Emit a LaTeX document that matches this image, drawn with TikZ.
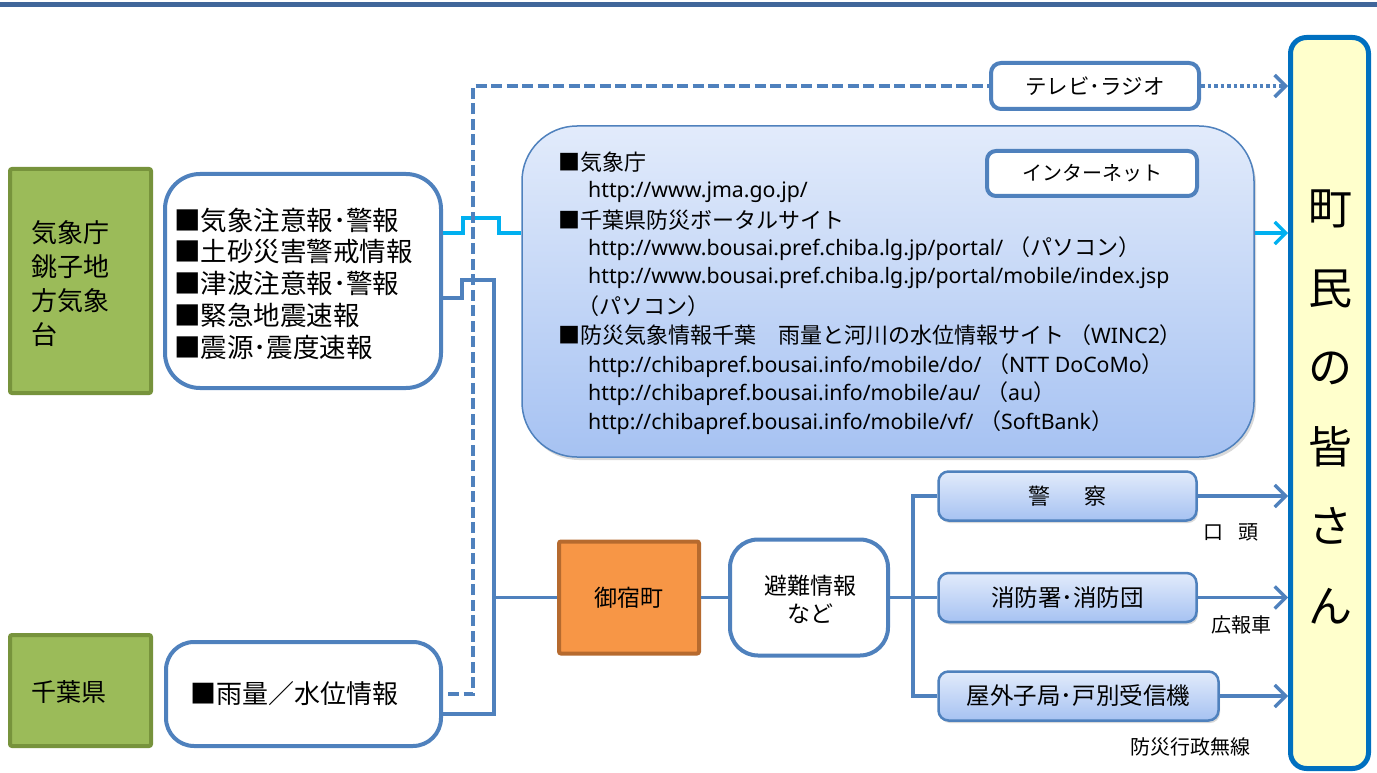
\documentclass[tikz,border=0pt]{standalone}
\usepackage{fontspec}
\setmainfont{Noto Sans CJK JP}
\newfontfamily\lat{Noto Sans}
\usetikzlibrary{arrows.meta,shadows}
\definecolor{lineblue}{HTML}{4F81BD}
\definecolor{cyanc}{HTML}{00B0F0}
\definecolor{greenf}{HTML}{9BBB59}
\definecolor{greenb}{HTML}{77933C}
\definecolor{orangef}{HTML}{F79646}
\definecolor{orangeb}{HTML}{B66A2E}
\definecolor{yellowf}{HTML}{FFFFCC}
\definecolor{townb}{HTML}{0070C0}
\definecolor{topbar}{HTML}{40669A}
\definecolor{gtop}{HTML}{E2EBFB}
\definecolor{gbot}{HTML}{A6C2F2}
\newcommand\fsz[2]{\fontsize{#1}{#2}\selectfont}
\newcommand\U[1]{{\lat\fontsize{21.3}{28}\selectfont #1}}
\begin{document}
\begin{tikzpicture}[x=1pt,y=-1pt,
  blueln/.style={draw=lineblue, line width=3.3pt},
  cyanln/.style={draw=cyanc, line width=3.3pt},
  barb/.style={-{Straight Barb[length=11pt,width=22pt]}},
  gbox/.style={draw=greenb, fill=greenf, line width=4pt, rounded corners=2pt},
  wbox/.style={draw=lineblue, fill=white, line width=4pt},
  sbox/.style={draw=lineblue, line width=2.5pt, rounded corners=10pt, top color=gtop, bottom color=gbot,
     drop shadow={shadow xshift=1.5pt,shadow yshift=-2.5pt,opacity=0.3}},
  lbl/.style={inner sep=0pt}
]
\path[use as bounding box] (0,0) rectangle (1377,773);
\fill[topbar] (0,2.5) rectangle (1377,7.5);

% boxes
\node[gbox, minimum width=141pt, minimum height=224pt] (g1) at (80.5,281) {};
\node[gbox, minimum width=141pt, minimum height=111pt] (g2) at (80.5,690.5) {};
\node[wbox, rounded corners=35pt, minimum width=276pt, minimum height=214pt] (w1) at (303,281) {};
\node[wbox, rounded corners=28pt, minimum width=275pt, minimum height=104pt] (w2) at (303.5,694) {};
\node[wbox, rounded corners=10pt, minimum width=208pt, minimum height=46pt] (tv) at (1095,86) {};
\node[draw=lineblue, line width=1.5pt, rounded corners=55pt, top color=gtop, bottom color=gbot,
  minimum width=732pt, minimum height=331pt,
  drop shadow={shadow xshift=2pt,shadow yshift=-3pt,opacity=0.3}] (inet) at (888,291.5) {};
\node[wbox, rounded corners=9pt, minimum width=210pt, minimum height=45pt] (inetl) at (1092,173.5) {};
\node[draw=townb, fill=yellowf, line width=5pt, rounded corners=16pt, minimum width=78pt, minimum height=731pt] (town) at (1329.5,403) {};
\node[draw=orangeb, fill=orangef, line width=4pt, rounded corners=2pt, minimum width=140pt, minimum height=112pt] (onjuku) at (629,597.5) {};
\node[wbox, rounded corners=28pt, minimum width=158pt, minimum height=116pt] (hinan) at (809,597.5) {};
\node[sbox, minimum width=258pt, minimum height=49pt] (police) at (1067.5,496) {};
\node[sbox, minimum width=258pt, minimum height=49pt] (fire) at (1067.5,597.5) {};
\node[sbox, minimum width=280pt, minimum height=49pt] (outdoor) at (1078.5,696) {};

% texts
\node[lbl, anchor=west, align=left, font=\fsz{26}{34}] (g1t) at (31,284) {気象庁\\銚子地\\方気象\\台};
\node[lbl, anchor=west, font=\fsz{25}{30}] (g2t) at (31,692) {千葉県};
\node[lbl, anchor=west, align=left, font=\fsz{26.5}{31.75}] (w1t) at (174,283.5) {■気象注意報･警報\\■土砂災害警戒情報\\■津波注意報･警報\\■緊急地震速報\\■震源･震度速報};
\node[lbl, anchor=west, font=\fsz{26}{30}] (w2t) at (190,694) {■雨量／水位情報};
\node[lbl, font=\fsz{21.5}{24}] (tvt) at (tv) {テレビ･ラジオ};
\node[lbl, font=\fsz{20}{24}] (inetlt) at (inetl) {インターネット};

\node[lbl, anchor=west, font=\fsz{22}{28}] (i1) at (558,162) {■気象庁};
\node[lbl, anchor=west, font=\fsz{22}{28}] (i2) at (588,192) {\U{http://www.jma.go.jp/}};
\node[lbl, anchor=west, font=\fsz{22}{28}] (i3) at (558,220) {■千葉県防災ボータルサイト};
\node[lbl, anchor=west, font=\fsz{22}{28}] (i4) at (588,249) {\U{http://www.bousai.pref.chiba.lg.jp/portal/ }（パソコン）};
\node[lbl, anchor=west, font=\fsz{22}{28}] (i5) at (588,278) {\U{http://www.bousai.pref.chiba.lg.jp/portal/mobile/index.jsp}};
\node[lbl, anchor=west, font=\fsz{22}{28}] (i6) at (577,306) {（パソコン）};
\node[lbl, anchor=west, font=\fsz{22}{28}] (i7) at (558,335) {■防災気象情報千葉　雨量と河川の水位情報サイト （\U{WINC2}）};
\node[lbl, anchor=west, font=\fsz{22}{28}] (i8) at (588,366) {\U{http://chibapref.bousai.info/mobile/do/ }（\U{NTT DoCoMo}）};
\node[lbl, anchor=west, font=\fsz{22}{28}] (i9) at (588,394) {\U{http://chibapref.bousai.info/mobile/au/ }（\U{au}）};
\node[lbl, anchor=west, font=\fsz{22}{28}] (i10) at (588,423) {\U{http://chibapref.bousai.info/mobile/vf/ }（\U{SoftBank}）};

\node[lbl, font=\fsz{44}{79.5}, align=center] (townt) at (1330,407) {町\\民\\の\\皆\\さ\\ん};
\node[lbl, font=\fsz{23}{30}] (onjukut) at (onjuku) {御宿町};
\node[lbl, font=\fsz{23}{28}, align=center] (hinant) at (810,599) {避難情報\\など};
\node[lbl, font=\fsz{22}{26}] (policet) at (police) {警\hspace{34pt}察};
\node[lbl, font=\fsz{23.5}{28}] (firet) at (fire) {消防署･消防団};
\node[lbl, font=\fsz{23.5}{28}] (outdoort) at (outdoor) {屋外子局･戸別受信機};
\node[lbl, font=\fsz{20}{24}] (l1) at (1231,532) {口\hspace{15pt}頭};
\node[lbl, font=\fsz{20}{24}] (l2) at (1241,625) {広報車};
\node[lbl, font=\fsz{20}{24}] (l3) at (1190,747) {防災行政無線};

% connectors
\coordinate (cy) at (463,233);
\draw[cyanln] (w1.east |- cy) -- (cy) -- (463,218) -- (499,218) -- (499,233) -- (inet.west |- cy);
\draw[cyanln, barb] (inet.east |- cy) -- (town.west |- cy);

\coordinate (trunk) at (494,280);
\draw[blueln] (w1.east |- 0,298) -- (462,298) -- (462,280) -- (trunk) -- (494,714) -- (w2.east |- 0,714);
\draw[blueln] (onjuku.west -| trunk) -- (onjuku.west);

\draw[lineblue, line width=3.5pt, dash pattern=on 11pt off 4.5pt] (448,694) -- (473,694) -- (473,86) -- (tv.west);
\draw[lineblue, line width=3.5pt, dash pattern=on 3.5pt off 3pt, barb] (tv.east) -- (town.west |- tv.east);

\draw[blueln] (onjuku.east) -- (hinan.west);
\coordinate (bx) at (913,597.5);
\draw[blueln] (hinan.east) -- (bx);
\draw[blueln] (police.west) -| (bx) |- (outdoor.west);
\draw[blueln] (bx) -- (fire.west);
\draw[blueln, barb] (police.east) -- (town.west |- police.east);
\draw[blueln, barb] (fire.east) -- (town.west |- fire.east);
\draw[blueln, barb] (outdoor.east) -- (town.west |- outdoor.east);
\end{tikzpicture}
\end{document}
